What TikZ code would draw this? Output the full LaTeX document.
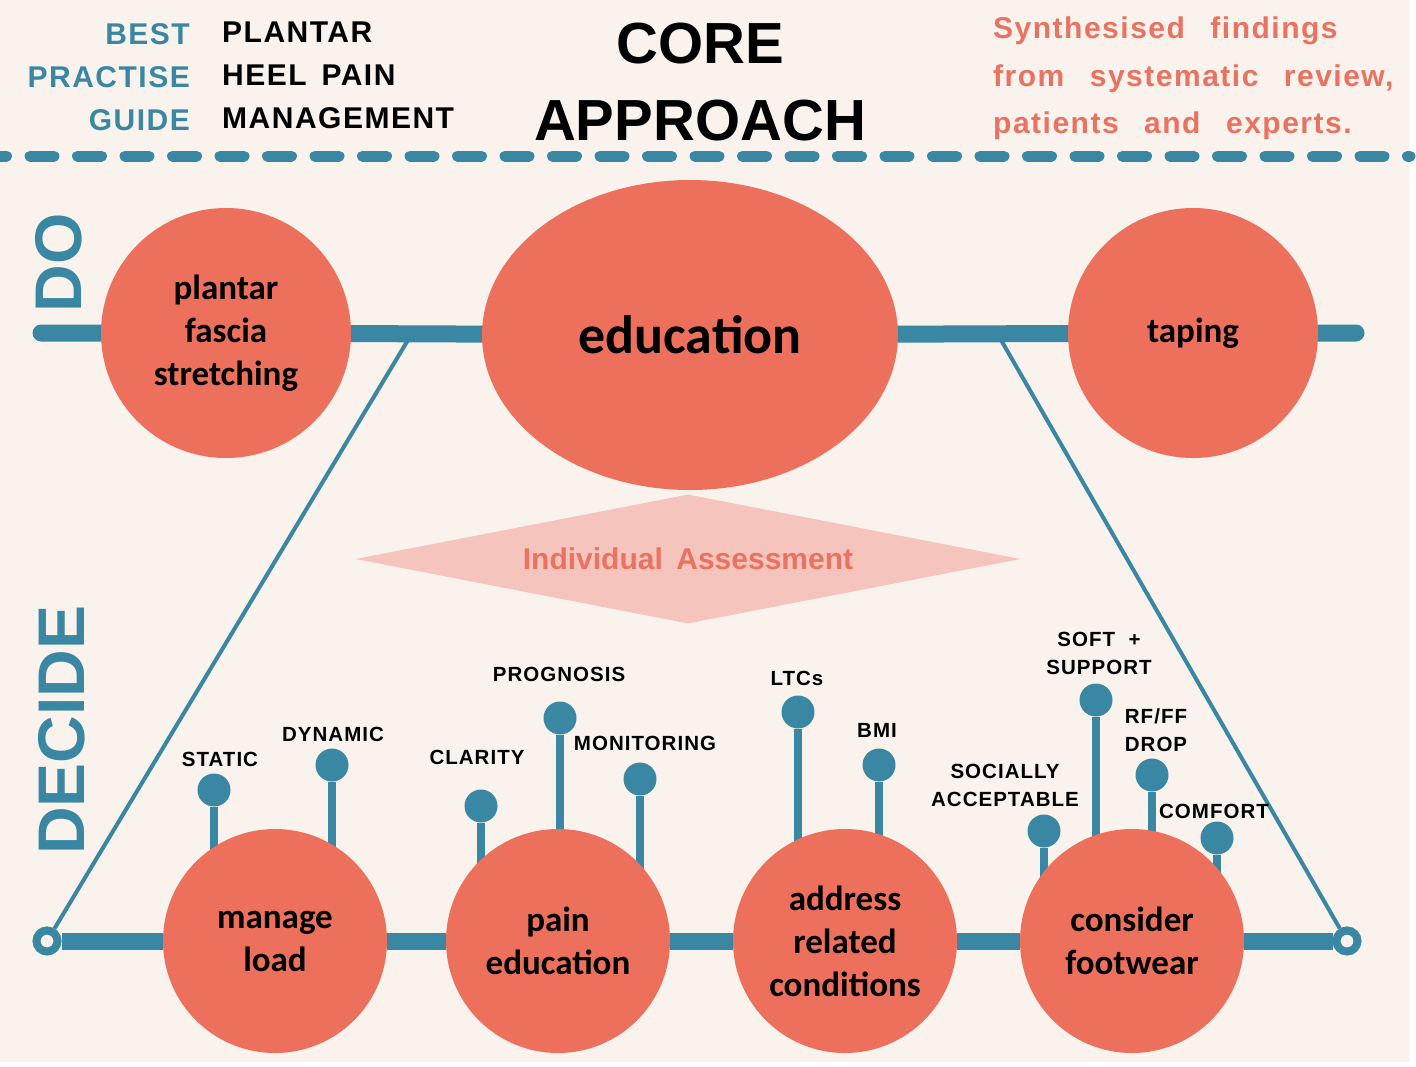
\documentclass[tikz,border=0pt]{standalone}
\usepackage{fontspec}
\setmainfont{Liberation Sans}
\newfontfamily\calib{Carlito}
\newfontfamily\wide[LetterSpace=5]{Liberation Sans}
\usetikzlibrary{positioning, shapes.geometric, backgrounds}
\definecolor{cpblue}{HTML}{3987A3}
\definecolor{salmon}{HTML}{EC705C}
\definecolor{salmontext}{HTML}{EA7260}
\definecolor{rosy}{HTML}{F5C4BC}
\definecolor{paper}{HTML}{FAF2EC}
\pgfdeclarelayer{paper}
\pgfsetlayers{paper,background,main}
\newcommand{\gap}{\hspace{0.85em}}
\tikzset{
    blob/.style={circle, fill=salmon, minimum size=250pt, inner sep=0pt, align=center,
        font=\calib\bfseries\fontsize{35}{43}\selectfont},
    smallblob/.style={blob, minimum size=224pt},
    bar/.style={cpblue, line width=17pt, line cap=round},
    rail/.style={cpblue, line width=4pt},
    ring/.style={circle, draw=cpblue, line width=8pt, fill=paper, minimum size=21pt, inner sep=0pt},
    dot/.style={circle, fill=cpblue, minimum size=33pt, inner sep=0pt},
    stem/.style={cpblue, line width=8pt},
    tag/.style={align=center, font=\wide\bfseries\fontsize{20.5}{28}\selectfont},
    side/.style={rotate=90, cpblue, font=\bfseries\fontsize{66}{66}\selectfont},
    head/.style={font=\wide\bfseries\fontsize{30}{30}\selectfont, inner sep=0pt}
}
\begin{document}
\begin{tikzpicture}[x=1pt, y=-1pt]
    \useasboundingbox (0,0) rectangle (1416,1066);
    \begin{pgfonlayer}{paper}
        \fill[white] (0,0) rectangle (1416,1066);
        \fill[paper] (0,0) rectangle (1410,1062);
    \end{pgfonlayer}

    % title block
    \node[head, cpblue, anchor=base east] (best) at (190,44) {BEST};
    \node[head, cpblue, anchor=base east] (practise) at (190,87) {PRACTISE};
    \node[head, cpblue, anchor=base east] (guide) at (190,130) {GUIDE};
    \node[head, anchor=base west] (plantarhd) at (222,42) {PLANTAR};
    \node[head, anchor=base west] (heelhd) at (222,85) {HEEL\, PAIN};
    \node[head, anchor=base west] (mgmthd) at (222,128) {MANAGEMENT};
    \node[font=\bfseries\fontsize{58}{58}\selectfont, inner sep=0pt, anchor=base] (core) at (700,63) {CORE};
    \node[font=\bfseries\fontsize{58}{58}\selectfont, inner sep=0pt, anchor=base] (approach) at (700,140) {APPROACH};
    \node[head, salmontext, anchor=base west] (syn1) at (993,38) {Synthesised\gap findings};
    \node[head, salmontext, anchor=base west] (syn2) at (993,86) {from\gap systematic\gap review,};
    \node[head, salmontext, anchor=base west] (syn3) at (993,133) {patients\gap and\gap experts.};
    \draw[cpblue, line width=11pt, line cap=round, dash pattern=on 24pt off 23.5pt, dash phase=17.5pt]
        (0,156) -- (1410,156);

    \node[side] (do) at (59,263) {DO};
    \node[side] (decide) at (62,730) {DECIDE};

    % do row
    \node[blob] (plantar) at (226,333) {plantar\\fascia\\stretching};
    \node[ellipse, fill=salmon, minimum width=416pt, minimum height=310pt, inner sep=0pt,
        font=\calib\bfseries\fontsize{54}{54}\selectfont] (edu) at (690,335) {education};
    \node[blob] (taping) at (1193,333) {taping};
    \coordinate (doL) at (41,333);
    \coordinate (doR) at (1356,333);
    \coordinate (tl) at (408,340);
    \coordinate (tr) at (1001,340);

    \node[diamond, aspect=5.15, fill=rosy, minimum width=665pt, minimum height=129pt, inner sep=0pt,
        text=salmontext, font=\bfseries\fontsize{30}{30}\selectfont] (assess) at (688,559) {Individual\hspace{0.45em}Assessment};

    % decide row
    \node[ring] (endL) at (47,941) {};
    \node[ring] (endR) at (1347,941) {};
    \node[smallblob] (load) at (275,941) {manage\\load};
    \node[smallblob] (painedu) at (558,941) {pain\\education};
    \node[smallblob] (address) at (845,941) {address\\related\\conditions};
    \node[smallblob] (footwear) at (1132,941) {consider\\footwear};

    \begin{scope}[on background layer]
        \draw[bar] (doL) -- (plantar) -- (edu) -- (taping) -- (doR);
        \draw[rail] (tl) -- (endL);
        \draw[rail] (tr) -- (endR);
        \draw[bar, line cap=butt] (endL) -- (load) -- (painedu) -- (address) -- (footwear) -- (endR);
    \end{scope}

    \foreach \n/\x/\y/\p in {st/214/790/load, dy/332/765/load,
        cl/481/806/painedu, pr/560/718/painedu, mo/640/779/painedu,
        lt/798/712/address, bm/879/765/address,
        so/1044/831/footwear, su/1096/700/footwear, rf/1152/775/footwear, co/1217/838/footwear}
    {
        \node[dot] (\n) at (\x,\y) {};
        \scoped[on background layer]
        \draw[stem] (\n) -- (\n |- \p);
    }

    \foreach \n/\x/\y/\t in {st/220/759/STATIC, dy/333/734/DYNAMIC,
        cl/477/757/CLARITY, pr/559/674/PROGNOSIS, mo/645/743/MONITORING,
        lt/797/678/LTCs, bm/877/730/BMI,
        so/1005/785/{SOCIALLY\\ACCEPTABLE}, su/1099/653/{SOFT\,\, +\\SUPPORT},
        rf/1156/730/{RF/FF\\DROP}, co/1214/811/COMFORT}
        \node[tag] (tag-\n) at (\x,\y) {\t};
\end{tikzpicture}
\end{document}
